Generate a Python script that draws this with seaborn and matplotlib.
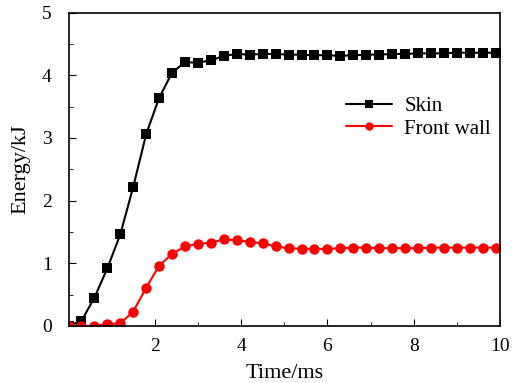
import numpy as np
import seaborn as sns
import matplotlib.pyplot as plt
from matplotlib.ticker import MultipleLocator

# tempo em ms, passo de 0.3 ms
time_ms = [0.0, 0.3, 0.6, 0.9, 1.2, 1.5, 1.8, 2.1, 2.4, 2.7, 3.0, 3.3, 3.6, 3.9,
           4.2, 4.5, 4.8, 5.1, 5.4, 5.7, 6.0, 6.3, 6.6, 6.9, 7.2, 7.5, 7.8, 8.1,
           8.4, 8.7, 9.0, 9.3, 9.6, 9.9]

skin = [0.0, 0.08, 0.45, 0.92, 1.46, 2.22, 3.06, 3.64, 4.04, 4.21, 4.20, 4.24, 4.31, 4.34,
        4.33, 4.34, 4.34, 4.33, 4.33, 4.32, 4.32, 4.31, 4.32, 4.33, 4.33, 4.34, 4.34, 4.35,
        4.35, 4.35, 4.36, 4.36, 4.36, 4.36]

front_wall = [0.0, 0.0, 0.0, 0.03, 0.04, 0.23, 0.61, 0.96, 1.15, 1.27, 1.31, 1.33, 1.38, 1.37,
              1.34, 1.32, 1.27, 1.24, 1.23, 1.23, 1.23, 1.24, 1.25, 1.25, 1.24, 1.24, 1.24, 1.24,
              1.25, 1.25, 1.25, 1.25, 1.25, 1.25]

sns.set_style('ticks')
plt.rcParams['font.family'] = ['Liberation Serif', 'DejaVu Serif']
plt.rcParams['text.color'] = 'black'
plt.rcParams['axes.labelcolor'] = 'black'
plt.rcParams['xtick.color'] = 'black'
plt.rcParams['ytick.color'] = 'black'
plt.rcParams['axes.edgecolor'] = 'black'

fig = plt.figure(figsize=(5.23, 3.83), dpi=100)
ax = fig.add_axes([0.131, 0.149, 0.825, 0.818])

sns.lineplot(x=time_ms, y=skin, ax=ax, color='black', marker='s', markersize=6.5,
             markeredgewidth=0, linewidth=1.5, label='Skin')
sns.lineplot(x=time_ms, y=front_wall, ax=ax, color='#ff0000', marker='o', markersize=7.5,
             markeredgewidth=0, linewidth=1.5, label='Front wall')

ax.set_xlim(0, 10)
ax.set_ylim(0, 5)
ax.set_xticks([2, 4, 6, 8, 10])
ax.xaxis.set_minor_locator(MultipleLocator(1))
ax.yaxis.set_major_locator(MultipleLocator(1))
ax.yaxis.set_minor_locator(MultipleLocator(0.5))
ax.tick_params(which='both', direction='in', labelsize=14, top=False, right=False)
ax.tick_params(which='major', length=5)
ax.tick_params(which='minor', length=3)
ax.tick_params(axis='x', pad=9)
ax.tick_params(axis='y', pad=12)
for s in ax.spines.values():
    s.set_visible(True)
    s.set_linewidth(1.2)

ax.set_xlabel('Time/ms', fontsize=16, labelpad=6)
ax.set_ylabel('Energy/kJ', fontsize=16, labelpad=8)
ax.legend(loc='center left', bbox_to_anchor=(0.6, 0.665), frameon=False, fontsize=15,
          handlelength=2.2, handletextpad=0.6, labelspacing=0.15, markerscale=0.8)

plt.savefig('out.png', dpi=100)
